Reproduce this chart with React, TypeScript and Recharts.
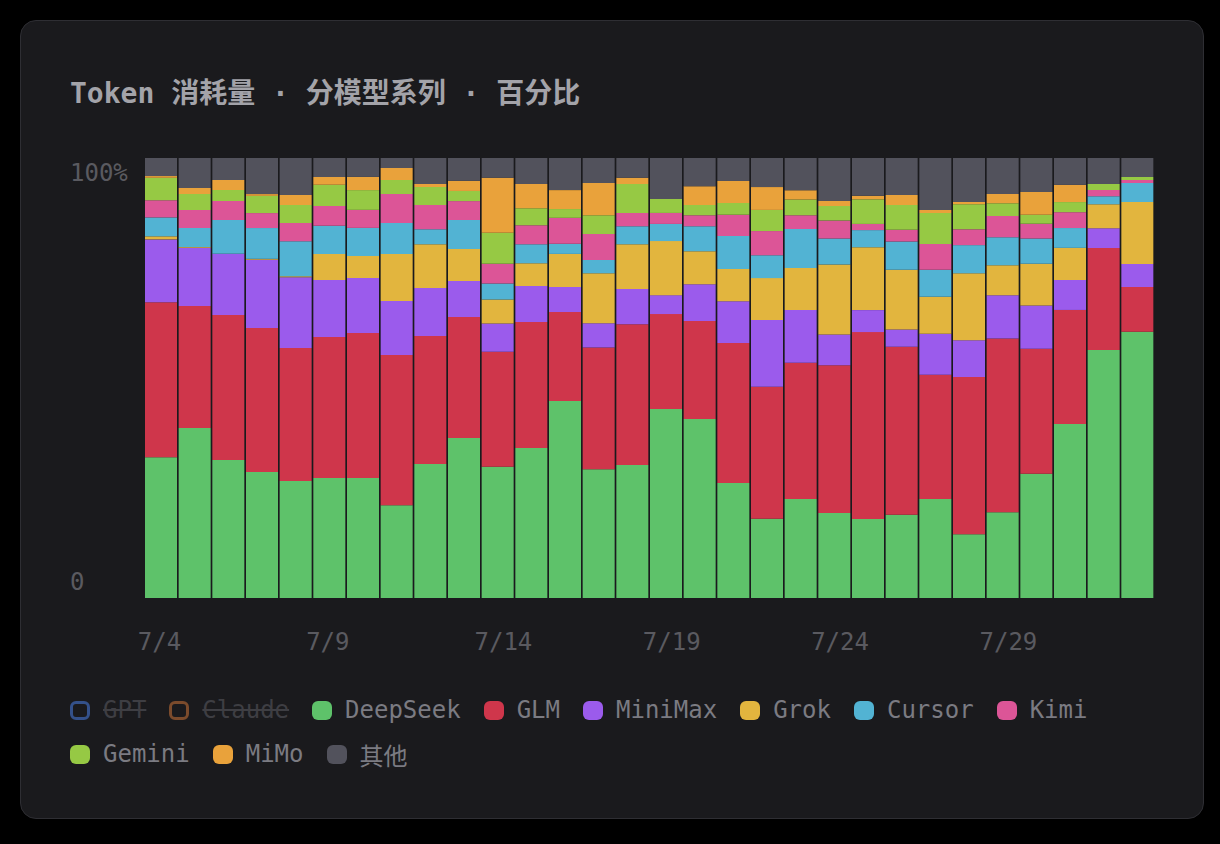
import React from "react";
import { BarChart, Bar, XAxis, YAxis } from "recharts";

const DATES = [
  "7/4", "7/5", "7/6", "7/7", "7/8", "7/9", "7/10", "7/11", "7/12", "7/13",
  "7/14", "7/15", "7/16", "7/17", "7/18", "7/19", "7/20", "7/21", "7/22", "7/23",
  "7/24", "7/25", "7/26", "7/27", "7/28", "7/29", "7/30", "7/31", "8/1", "8/2",
];

// share of tokens per day, %
const DEEPSEEK = [32.0, 38.6, 31.4, 28.6, 26.6, 27.3, 27.3, 21.1, 30.5, 36.4, 29.8, 34.1, 44.8, 29.3, 30.2, 43.0, 40.7, 26.1, 18.0, 22.5, 19.3, 18.0, 18.9, 22.5, 14.5, 19.5, 28.2, 39.5, 56.4, 60.5];
const GLM = [35.2, 27.7, 33.0, 32.7, 30.2, 32.0, 33.0, 34.1, 29.1, 27.5, 26.1, 28.6, 20.2, 27.7, 32.0, 21.6, 22.3, 31.8, 30.0, 30.9, 33.6, 42.5, 38.2, 28.2, 35.7, 39.5, 28.4, 25.9, 23.2, 10.2];
const MINIMAX = [14.3, 13.2, 13.9, 15.5, 16.1, 13.0, 12.5, 12.3, 10.9, 8.2, 6.4, 8.2, 5.7, 5.5, 8.0, 4.3, 8.4, 9.5, 15.2, 12.0, 7.0, 5.0, 3.9, 9.3, 8.4, 9.8, 9.8, 6.8, 4.5, 5.2];
const GROK = [0.7, 0.2, 0, 0.2, 0.2, 5.9, 5.0, 10.7, 10.0, 7.3, 5.5, 5.2, 7.5, 11.4, 10.2, 12.3, 7.5, 7.3, 9.5, 9.5, 15.9, 14.3, 13.6, 8.4, 15.2, 6.8, 9.5, 7.3, 5.5, 14.1];
const CURSOR = [4.3, 4.3, 7.7, 7.0, 8.0, 6.4, 6.4, 7.0, 3.4, 6.6, 3.6, 4.3, 2.3, 3.0, 4.1, 3.9, 5.7, 7.5, 5.2, 8.9, 5.9, 3.9, 6.4, 6.1, 6.4, 6.4, 5.7, 4.5, 1.8, 4.3];
const KIMI = [3.9, 4.1, 4.3, 3.4, 4.1, 4.5, 4.1, 6.6, 5.5, 4.3, 4.5, 4.3, 5.9, 5.9, 3.0, 2.5, 2.5, 4.8, 5.5, 3.1, 4.1, 1.4, 2.7, 5.9, 3.6, 4.8, 3.4, 3.6, 1.4, 0.7];
const GEMINI = [5.1, 3.6, 2.5, 3.9, 4.1, 4.8, 4.5, 3.2, 4.1, 2.3, 7.0, 3.9, 2.0, 4.3, 6.6, 3.2, 2.3, 2.7, 4.8, 3.6, 3.3, 5.6, 5.6, 7.0, 5.7, 2.9, 2.0, 2.3, 1.4, 0.7];
const MIMO = [0.4, 1.4, 2.3, 0.4, 2.3, 1.8, 3.0, 2.7, 0.7, 2.3, 12.5, 5.5, 4.3, 7.3, 1.4, 0, 4.3, 5.0, 5.2, 2.1, 1.1, 0.8, 2.3, 0.7, 0.5, 2.1, 5.2, 3.9, 0, 0];
const OTHER = [4.1, 6.8, 5.0, 8.2, 8.4, 4.3, 4.3, 2.3, 5.9, 5.2, 4.5, 5.9, 7.3, 5.7, 4.5, 9.3, 6.4, 5.2, 6.6, 7.3, 9.8, 8.6, 8.4, 11.8, 10.0, 8.2, 7.7, 6.1, 5.9, 4.3];

const SERIES = [
  { key: "DeepSeek", values: DEEPSEEK, color: "#5ec26a" },
  { key: "GLM", values: GLM, color: "#cf364b" },
  { key: "MiniMax", values: MINIMAX, color: "#9b5bec" },
  { key: "Grok", values: GROK, color: "#e2b53e" },
  { key: "Cursor", values: CURSOR, color: "#52b3d3" },
  { key: "Kimi", values: KIMI, color: "#dc5597" },
  { key: "Gemini", values: GEMINI, color: "#96c944" },
  { key: "MiMo", values: MIMO, color: "#e9a23b" },
  { key: "其他", values: OTHER, color: "#52525c" },
];

// legend order, GPT and Claude are toggled off
const LEGEND = [
  { name: "GPT", color: "#34518a", hidden: true },
  { name: "Claude", color: "#7b4b2c", hidden: true },
  ...SERIES.map((s) => ({ name: s.key, color: s.color, hidden: false })),
];

const data = DATES.map((d, i) => {
  const row: Record<string, any> = { date: d };
  SERIES.forEach((s) => (row[s.key] = s.values[i]));
  return row;
});

const FONT = "'DejaVu Sans Mono', 'Noto Sans CJK SC', monospace";

const XTick = ({ x, payload }: any) => (
  <text x={x - 23} y={642} fill="#5a5a60" fontSize={24} fontFamily={FONT} textAnchor="start" dominantBaseline="central">
    {payload.value}
  </text>
);

const YTick = ({ y, payload }: any) => (
  <text
    x={70}
    y={payload.value === 0 ? y - 16 : y + 15}
    fill="#5a5a60"
    fontSize={24}
    fontFamily={FONT}
    textAnchor="start"
    dominantBaseline="central"
  >
    {payload.value === 0 ? "0" : "100%"}
  </text>
);

export default function App() {
  return (
    <div style={{ position: "fixed", inset: 0, background: "#000", fontFamily: FONT }}>
      <div
        style={{
          position: "absolute",
          left: 20,
          top: 20,
          width: 1184,
          height: 799,
          boxSizing: "border-box",
          background: "#1a1a1d",
          border: "1px solid #2e2e33",
          borderRadius: 16,
        }}
      />
      <div
        style={{
          position: "absolute",
          left: 70,
          top: 74,
          height: 40,
          lineHeight: "40px",
          fontSize: 28,
          fontWeight: 700,
          color: "#a3a3a9",
          whiteSpace: "pre",
        }}
      >
        Token 消耗量 · 分模型系列 · 百分比
      </div>
      <div style={{ position: "absolute", left: 0, top: 0 }}>
        <BarChart
          width={1220}
          height={844}
          data={data}
          stackOffset="expand"
          barCategoryGap={1}
          margin={{ top: 158, right: 66, bottom: 216, left: 84 }}
        >
          <XAxis dataKey="date" axisLine={false} tickLine={false} interval={4} tick={<XTick />} height={30} />
          <YAxis domain={[0, 1]} ticks={[0, 1]} axisLine={false} tickLine={false} tick={<YTick />} width={60} />
          {SERIES.map((s) => (
            <Bar key={s.key} dataKey={s.key} stackId="a" fill={s.color} isAnimationActive={false} />
          ))}
        </BarChart>
      </div>
      <div
        style={{
          position: "absolute",
          left: 70,
          top: 693,
          width: 1084,
          display: "flex",
          flexWrap: "wrap",
          columnGap: 23,
          rowGap: 10,
          fontSize: 24,
        }}
      >
        {LEGEND.map((l) => (
          <div key={l.name} style={{ display: "flex", alignItems: "center", height: 34 }}>
            <span
              style={{
                display: "inline-block",
                width: 20,
                height: 19,
                boxSizing: "border-box",
                borderRadius: 6,
                background: l.hidden ? "transparent" : l.color,
                border: l.hidden ? `3px solid ${l.color}` : "none",
                marginRight: 13,
              }}
            />
            <span
              style={{
                color: l.hidden ? "#3e3e43" : "#7b7b82",
                textDecoration: l.hidden ? "line-through" : "none",
                whiteSpace: "pre",
              }}
            >
              {l.name}
            </span>
          </div>
        ))}
      </div>
    </div>
  );
}
